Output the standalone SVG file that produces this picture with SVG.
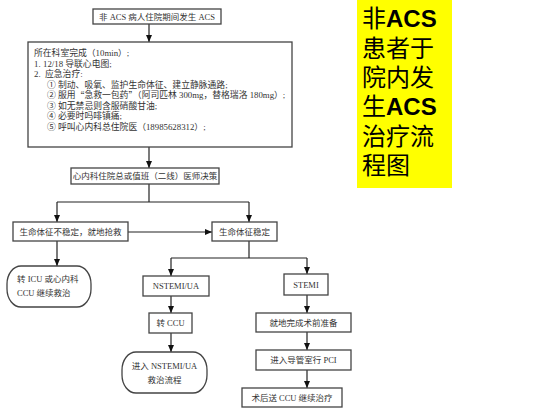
<svg xmlns="http://www.w3.org/2000/svg" width="550" height="413" viewBox="0 0 550 413">
<defs>
<style>
.box{fill:#fff;stroke:#444;stroke-width:1.3}
.t{font-family:"Liberation Serif","Noto Sans CJK SC",serif;font-size:8.5px;fill:#333}
.bt{font-size:8.8px}
.q{font-family:"Noto Sans CJK SC",sans-serif}
.c{text-anchor:middle;dominant-baseline:central}
.l{dominant-baseline:central}
.ln{fill:none;stroke:#222;stroke-width:1.2}
.ttl{font-family:"Noto Sans CJK SC",sans-serif;font-size:24px;fill:#000}
.b{font-family:"Liberation Sans",Arial,sans-serif;font-weight:bold}
</style>
<marker id="ah" markerUnits="userSpaceOnUse" markerWidth="7" markerHeight="7" viewBox="0 0 7 7" refX="7" refY="3.5" orient="auto">
<path d="M0,0.5 L7,3.5 L0,6.5 Z" fill="#111"/>
</marker>
</defs>
<rect width="550" height="413" fill="#fff"/>

<g id="title">
<rect x="357" y="0" width="95" height="188" fill="#ffff00"/>
<text class="ttl" x="362" y="27">非<tspan class="b">ACS</tspan></text>
<text class="ttl" x="362" y="56.5">患者于</text>
<text class="ttl" x="362" y="86">院内发</text>
<text class="ttl" x="362" y="115">生<tspan class="b">ACS</tspan></text>
<text class="ttl" x="362" y="144.5">治疗流</text>
<text class="ttl" x="362" y="174">程图</text>
</g>

<g id="connectors">
<line class="ln" x1="149" y1="24" x2="149" y2="42" marker-end="url(#ah)"/>
<line class="ln" x1="149" y1="147" x2="149" y2="168" marker-end="url(#ah)"/>
<polyline class="ln" points="149,184 149,202"/>
<polyline class="ln" points="57,202 249,202"/>
<line class="ln" x1="57" y1="202" x2="57" y2="222" marker-end="url(#ah)"/>
<line class="ln" x1="249" y1="202" x2="249" y2="222" marker-end="url(#ah)"/>
<line class="ln" x1="128" y1="232" x2="212" y2="232" marker-end="url(#ah)"/>
<line class="ln" x1="57" y1="241" x2="57" y2="266" marker-end="url(#ah)"/>
<polyline class="ln" points="249,241 249,258"/>
<polyline class="ln" points="171,258 307,258"/>
<line class="ln" x1="171" y1="258" x2="171" y2="276" marker-end="url(#ah)"/>
<line class="ln" x1="307" y1="258" x2="307" y2="274" marker-end="url(#ah)"/>
<line class="ln" x1="171" y1="296" x2="171" y2="313" marker-end="url(#ah)"/>
<line class="ln" x1="171" y1="333" x2="171" y2="352" marker-end="url(#ah)"/>
<line class="ln" x1="307" y1="295" x2="307" y2="313" marker-end="url(#ah)"/>
<line class="ln" x1="307" y1="332" x2="307" y2="350" marker-end="url(#ah)"/>
<line class="ln" x1="307" y1="370" x2="307" y2="388" marker-end="url(#ah)"/>
</g>

<g id="start">
<rect class="box" x="93" y="9" width="128" height="15"/>
<text class="t c" x="157" y="16.5">非 ACS 病人住院期间发生 ACS</text>
</g>

<g id="dept">
<rect class="box" x="28" y="42" width="264" height="105"/>
<text class="t bt l" x="34" y="53">所在科室完成（10min）;</text>
<text class="t bt l" x="34" y="63.5">1.</text>
<text class="t bt l" x="43" y="63.5">12/18 导联心电图;</text>
<text class="t bt l" x="34" y="74">2.</text>
<text class="t bt l" x="45" y="74">应急治疗:</text>
<text class="t bt l" x="47" y="84.5">①</text>
<text class="t bt l" x="58" y="84.5">制动、吸氧、监护生命体征、建立静脉通路;</text>
<text class="t bt l" x="47" y="95">②</text>
<text class="t bt l" x="58" y="95">服用<tspan class="q">“</tspan>急救一包药<tspan class="q">”</tspan>（阿司匹林 300mg，替格瑞洛 180mg）;</text>
<text class="t bt l" x="47" y="105.5">③</text>
<text class="t bt l" x="58" y="105.5">如无禁忌则含服硝酸甘油;</text>
<text class="t bt l" x="47" y="116">④</text>
<text class="t bt l" x="58" y="116">必要时吗啡镇痛;</text>
<text class="t bt l" x="47" y="126.5">⑤</text>
<text class="t bt l" x="58" y="126.5">呼叫心内科总住院医（18985628312）;</text>
</g>

<g id="decide">
<rect class="box" x="71" y="168" width="148" height="16"/>
<text class="t c" x="145" y="176">心内科住院总或值班（二线）医师决策</text>
</g>

<g id="unstable">
<rect class="box" x="13" y="222" width="115" height="19"/>
<text class="t c" x="70.5" y="231.5">生命体征不稳定，就地抢救</text>
</g>

<g id="stable">
<rect class="box" x="212" y="222" width="65" height="19"/>
<text class="t c" x="244.5" y="231.5">生命体征稳定</text>
</g>

<g id="icu">
<rect class="box" x="7" y="266" width="84" height="41" rx="14" ry="18"/>
<text class="t l" x="17" y="279">转 ICU 或心内科</text>
<text class="t l" x="17" y="293">CCU 继续救治</text>
</g>

<g id="nstemi">
<rect class="box" x="143" y="276" width="66" height="20"/>
<text class="t c" x="176" y="286">NSTEMI/UA</text>
</g>

<g id="toccu">
<rect class="box" x="149" y="313" width="43" height="20"/>
<text class="t c" x="170.5" y="323">转 CCU</text>
</g>

<g id="nstemiflow">
<rect class="box" x="122" y="352" width="85" height="41" rx="14" ry="18"/>
<text class="t c" x="164.5" y="366">进入 NSTEMI/UA</text>
<text class="t c" x="164.5" y="380">救治流程</text>
</g>

<g id="stemi">
<rect class="box" x="284" y="274" width="44" height="21"/>
<text class="t c" x="306" y="284.5">STEMI</text>
</g>

<g id="prep">
<rect class="box" x="256" y="313" width="95" height="19"/>
<text class="t c" x="303.5" y="322.5">就地完成术前准备</text>
</g>

<g id="pci">
<rect class="box" x="256" y="350" width="95" height="20"/>
<text class="t c" x="303.5" y="360">进入导管室行 PCI</text>
</g>

<g id="post">
<rect class="box" x="242" y="388" width="100" height="19"/>
<text class="t c" x="292" y="397.5">术后送 CCU 继续治疗</text>
</g>
</svg>
